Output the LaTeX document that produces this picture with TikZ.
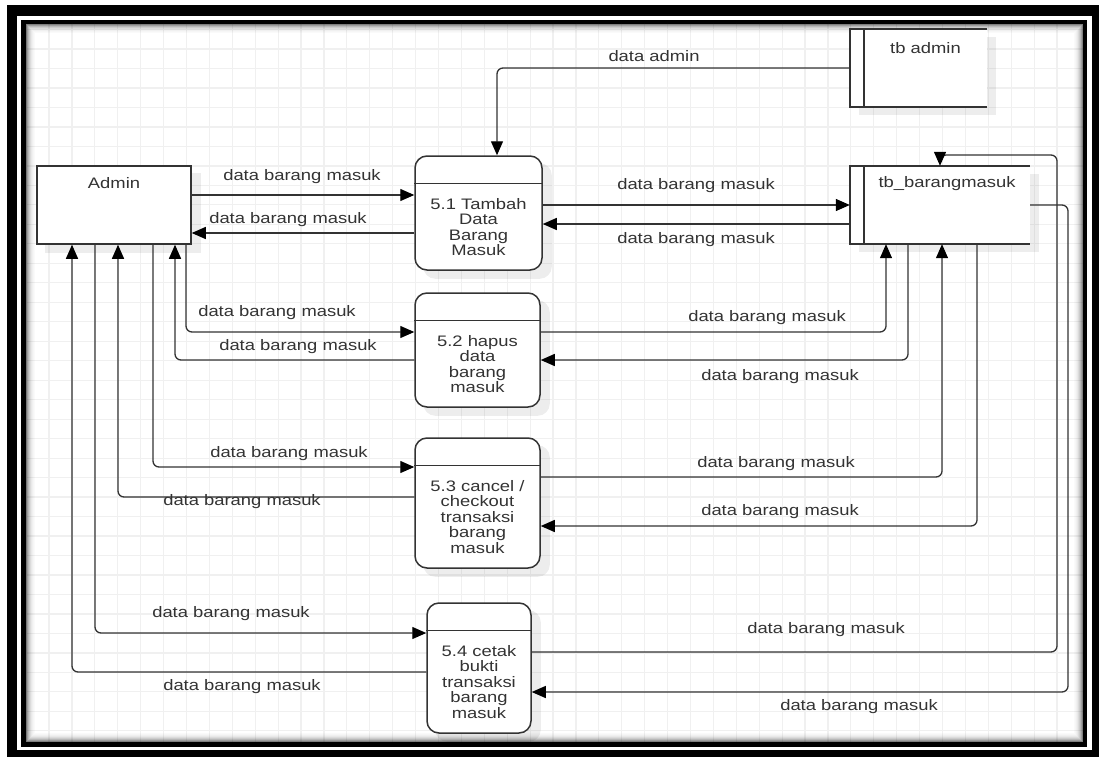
\documentclass[tikz,border=0pt]{standalone}
\usepackage{fontspec}
\setmainfont{Liberation Sans}[FakeStretch=1.21]
\usetikzlibrary{arrows.meta,calc}
\definecolor{ink}{HTML}{333333}
\definecolor{gridline}{HTML}{F0F0F0}
\pgfdeclarelayer{back}
\pgfdeclarelayer{shade}
\pgfsetlayers{back,shade,main}

\begin{document}
\begin{tikzpicture}[x=1pt,y=-1pt,
  every node/.style={font=\fontsize{15.2}{15.5}\selectfont, text=ink, inner sep=0pt},
  outline/.style={draw=ink, line width=1.5pt},
  entity/.style={outline, fill=white},
  process/.style={outline, fill=white, rounded corners=12pt},
  store/.style={fill=white},
  flow/.style={draw=ink, line width=1.3pt, rounded corners=6pt,
    -{Triangle[length=14pt,width=12pt,color=black]}},
  boxshadow/.style={fill=black, opacity=0.07},
  lbl/.style={anchor=center}
]
\useasboundingbox (0,0) rectangle (1099,757);

% ---------- page frame and grid paper ----------
\begin{pgfonlayer}{back}
  \fill[white] (0,0) rectangle (1099,757);
  \fill[black] (7,5) rectangle (1099,757);
  \fill[white] (17,16) rectangle (1092,750);
  \fill[black] (21,20) rectangle (1087,747);
  \fill[white] (26,24) rectangle (1083,742);
  \begin{scope}
    \clip (26,24) rectangle (1083,742);
    \foreach \k in {0,...,45} {
      \draw[gridline, line width=1.2pt] ({49+22.91*(\k-1)},24) -- ({49+22.91*(\k-1)},742);
    }
    \foreach \k in {-4,...,34} {
      \draw[gridline, line width=1.2pt] (26,{88+19.48*\k}) -- (1083,{88+19.48*\k});
    }
    \foreach \i/\o in {1/0.5,2/0.38,3/0.28,4/0.2,5/0.14,6/0.09,7/0.06,8/0.035,9/0.02} {
      \draw[black, opacity=\o, line width=1pt]
        ({26+\i-0.5},{24+\i-0.5}) rectangle ({1083-\i+0.5},{742-\i+0.5});
    }
  \end{scope}
\end{pgfonlayer}

% ---------- external entity ----------
\node[entity, minimum width=154pt, minimum height=78pt] (admin) at (114,205) {};
\node[lbl] (admint) at ($(admin.north)+(0,18)$) {Admin};

% ---------- processes ----------
\node[process, minimum width=127pt, minimum height=114pt] (p1) at (478.5,213) {};
\node[process, minimum width=125pt, minimum height=114pt] (p2) at (477.5,350) {};
\node[process, minimum width=125pt, minimum height=130pt] (p3) at (477.5,503) {};
\node[process, minimum width=104pt, minimum height=130pt] (p4) at (479,668) {};
\foreach \p in {p1,p2,p3,p4} {
  \draw[outline] ([yshift=-28pt]\p.north west) -- ([yshift=-28pt]\p.north east);
}
\node[align=center] (p1t) at ($(p1.south)!0.5!([yshift=-28pt]p1.north)$) {5.1 Tambah\\Data\\Barang\\Masuk};
\node[align=center] (p2t) at ($(p2.south)!0.5!([yshift=-28pt]p2.north)$) {5.2 hapus\\data\\barang\\masuk};
\node[align=center] (p3t) at ($(p3.south)!0.5!([yshift=-28pt]p3.north)$) {5.3 cancel /\\checkout\\transaksi\\barang\\masuk};
\node[align=center] (p4t) at ($(p4.south)!0.5!([yshift=-28pt]p4.north)$) {5.4 cetak\\bukti\\transaksi\\barang\\masuk};

% ---------- data stores ----------
\node[store, minimum width=137pt, minimum height=78pt] (tbadmin) at (918.5,68) {};
\node[store, minimum width=180pt, minimum height=78pt] (tbbm) at (940,205) {};
\foreach \s in {tbadmin,tbbm} {
  \draw[outline] (\s.north east) -- (\s.north west) -- (\s.south west) -- (\s.south east);
  \draw[outline] ([xshift=14pt]\s.north west) -- ([xshift=14pt]\s.south west);
}
\node[lbl] (tbadmint) at ($([xshift=14pt]tbadmin.north west)!0.5!(tbadmin.north east)+(0,19)$) {tb admin};
\node[lbl] (tbbmt) at ($([xshift=14pt]tbbm.north west)!0.5!(tbbm.north east)+(0,18)$) {tb\_barangmasuk};

% ---------- soft drop shadows ----------
\begin{pgfonlayer}{shade}
  \foreach \n in {admin,tbadmin,tbbm} {
    \fill[boxshadow] ([shift={(9pt,-8pt)}]\n.north west) rectangle ([shift={(9pt,-8pt)}]\n.south east);
  }
  \foreach \n in {p1,p2,p3,p4} {
    \fill[boxshadow, rounded corners=12pt] ([shift={(9pt,-8pt)}]\n.north west) rectangle ([shift={(9pt,-8pt)}]\n.south east);
  }
\end{pgfonlayer}

% ---------- lanes and rows of the flows ----------
\coordinate (la1) at (72,0);  \coordinate (la2) at (95,0);
\coordinate (la3) at (118,0); \coordinate (la4) at (153,0);
\coordinate (la5) at (175,0); \coordinate (la6) at (186,0);
\coordinate (lb1) at (886,0); \coordinate (lb2) at (908,0);
\coordinate (lb3) at (942,0); \coordinate (lb4) at (977,0);
\coordinate (ladm) at (497,0);
\coordinate (loopA) at (1057,155);
\coordinate (loopB) at (1068,692);
\coordinate (r1) at (0,195);  \coordinate (r2) at (0,233);
\coordinate (r3) at (0,205);  \coordinate (r4) at (0,224);
\coordinate (r5) at (0,332);  \coordinate (r6) at (0,360);
\coordinate (r7) at (0,467);  \coordinate (r8) at (0,497);
\coordinate (r9) at (0,633);  \coordinate (r10) at (0,672);
\coordinate (r11) at (0,477); \coordinate (r12) at (0,526);
\coordinate (r13) at (0,652);

% ---------- data flows ----------
\draw[flow] (tbadmin.west) -| (p1.north -| ladm);
\draw[flow] (admin.east |- r1) -- (p1.west |- r1);
\draw[flow] (p1.west |- r2) -- (admin.east |- r2);
\draw[flow] (p1.east |- r3) -- (tbbm.west |- r3);
\draw[flow] (tbbm.west |- r4) -- (p1.east |- r4);

\draw[flow] (admin.south -| la6) |- (p2.west |- r5);
\draw[flow] (p2.west |- r6) -| (admin.south -| la5);
\draw[flow] (admin.south -| la4) |- (p3.west |- r7);
\draw[flow] (p3.west |- r8) -| (admin.south -| la3);
\draw[flow] (admin.south -| la2) |- (p4.west |- r9);
\draw[flow] (p4.west |- r10) -| (admin.south -| la1);

\draw[flow] (p2.east |- r5) -| (tbbm.south -| lb1);
\draw[flow] (tbbm.south -| lb2) |- (p2.east |- r6);
\draw[flow] (p3.east |- r11) -| (tbbm.south -| lb3);
\draw[flow] (tbbm.south -| lb4) |- (p3.east |- r12);
\draw[flow] (p4.east |- r13) -| (loopA) -| (tbbm.north);
\draw[flow] (tbbm.east) -| (loopB) -- (p4.east |- loopB);

% ---------- flow labels ----------
\node[lbl] (l0) at (654,56) {data admin};
\node[lbl] (l1) at (302,177) {data barang masuk};
\node[lbl] (l2) at (288,220) {data barang masuk};
\node[lbl] (l3) at (696,186) {data barang masuk};
\node[lbl] (l4) at (696,240) {data barang masuk};
\node[lbl] (l5) at (277,313) {data barang masuk};
\node[lbl] (l6) at (298,347) {data barang masuk};
\node[lbl] (l7) at (289,454) {data barang masuk};
\node[lbl] (l8) at (242,502) {data barang masuk};
\node[lbl] (l9) at (231,614) {data barang masuk};
\node[lbl] (l10) at (242,687) {data barang masuk};
\node[lbl] (l11) at (767,318) {data barang masuk};
\node[lbl] (l12) at (780,377) {data barang masuk};
\node[lbl] (l13) at (776,464) {data barang masuk};
\node[lbl] (l14) at (780,512) {data barang masuk};
\node[lbl] (l15) at (826,630) {data barang masuk};
\node[lbl] (l16) at (859,707) {data barang masuk};
\end{tikzpicture}
\end{document}
